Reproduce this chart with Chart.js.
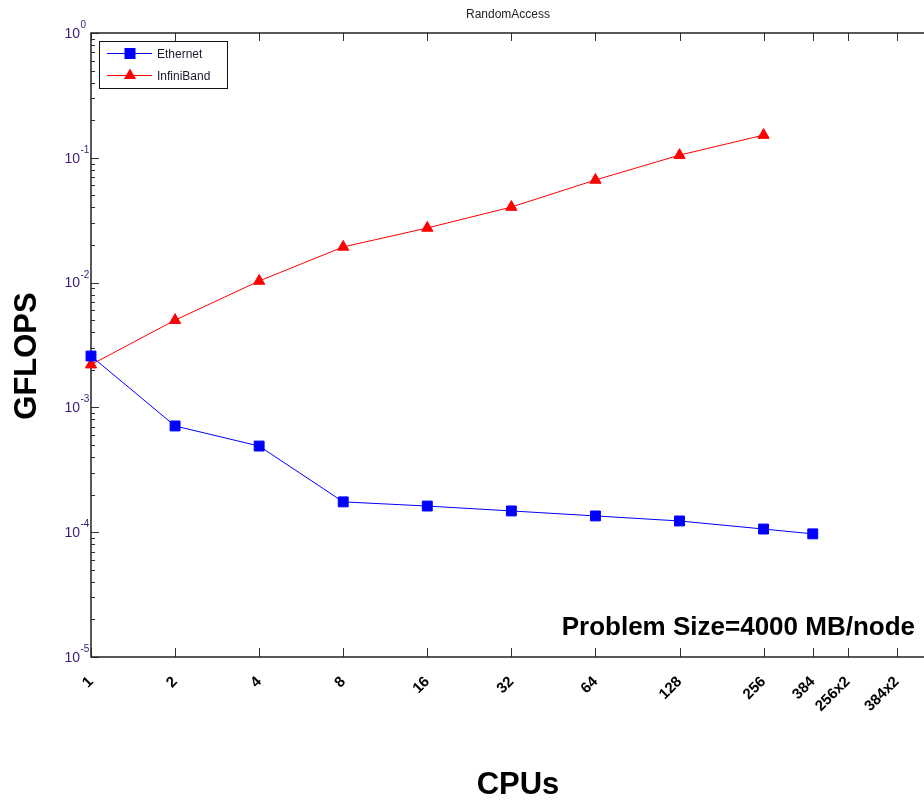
<!DOCTYPE html>
<html>
<head>
<meta charset="utf-8">
<script src="https://cdn.jsdelivr.net/npm/chart.js@4.4.1/dist/chart.umd.min.js"></script>
<style>
  html, body { margin: 0; padding: 0; background: #fff; overflow: hidden; }
</style>
</head>
<body>
<!-- a bit wider than the window: the rotated last label reserves room past the right edge -->
<canvas id="myChart" width="933" height="800"></canvas>
<script>
const cpus = [1, 2, 4, 8, 16, 32, 64, 128, 256, 384];
const ethernet = [2.58e-3, 7.1e-4, 4.9e-4, 1.75e-4, 1.62e-4, 1.48e-4, 1.35e-4, 1.23e-4, 1.06e-4, 9.7e-5];
const infiniband = [2.2e-3, 5.0e-3, 1.03e-2, 1.93e-2, 2.74e-2, 4.03e-2, 6.64e-2, 1.05e-1, 1.52e-1];
const xTickValues = [1, 2, 4, 8, 16, 32, 64, 128, 256, 384, 512, 768];
const xTickLabels = ['1', '2', '4', '8', '16', '32', '64', '128', '256', '384', '256x2', '384x2'];
const yDecades = [-5, -4, -3, -2, -1, 0];

const FONT = "Arial, 'Liberation Sans', sans-serif";
Chart.defaults.font.family = FONT;

function toPoints(values) {
  return values.map((v, i) => ({ x: cpus[i], y: v }));
}

function drawMarker(ctx, style, cx, cy, color) {
  ctx.fillStyle = color;
  ctx.beginPath();
  if (style === 'rect') {
    ctx.rect(cx - 5.5, cy - 5.5, 11, 11);
  } else {
    const r = 7;
    ctx.moveTo(cx, cy - r);
    ctx.lineTo(cx + r * 0.866, cy + r / 2);
    ctx.lineTo(cx - r * 0.866, cy + r / 2);
    ctx.closePath();
  }
  ctx.fill();
}

// axes box with inside ticks, like the matlab figure
const framePlugin = {
  id: 'frame',
  beforeDatasetsDraw(chart) {
    const { ctx, chartArea: a, scales: { x, y } } = chart;
    ctx.save();
    ctx.strokeStyle = '#333';
    ctx.lineWidth = 1;
    ctx.beginPath();
    xTickValues.forEach(v => {
      const px = Math.round(x.getPixelForValue(v)) + 0.5;
      ctx.moveTo(px, a.bottom);
      ctx.lineTo(px, a.bottom - 9);
      ctx.moveTo(px, a.top);
      ctx.lineTo(px, a.top + 8);
    });
    yDecades.forEach(e => {
      for (let m = 1; m <= 9; m++) {
        const v = m * Math.pow(10, e);
        if (v > 1.0001) break;
        const py = Math.round(y.getPixelForValue(v)) + 0.5;
        ctx.moveTo(a.left, py);
        ctx.lineTo(a.left + (m === 1 ? 8 : 4), py);
      }
    });
    ctx.stroke();

    ctx.strokeStyle = '#222';
    ctx.lineWidth = 1.5;
    ctx.beginPath();
    ctx.moveTo(a.right + 2, a.top);
    ctx.lineTo(a.left, a.top);
    ctx.lineTo(a.left, a.bottom);
    ctx.lineTo(a.right + 2, a.bottom);
    ctx.stroke();
    ctx.restore();
  },
  afterDraw(chart) {
    const { ctx, scales: { y } } = chart;
    ctx.save();

    // y tick labels 10^n
    ctx.fillStyle = '#3b1a78';
    yDecades.forEach(e => {
      const py = y.getPixelForValue(Math.pow(10, e));
      ctx.font = '14px ' + FONT;
      ctx.textAlign = 'right';
      ctx.textBaseline = 'middle';
      ctx.fillText('10', 80, py + 1);
      ctx.font = '10px ' + FONT;
      ctx.textAlign = 'left';
      ctx.textBaseline = 'alphabetic';
      ctx.fillText(String(e), 80.5, py - 5);
    });

    // axis titles
    ctx.fillStyle = '#000';
    ctx.font = 'bold 31px ' + FONT;
    ctx.textAlign = 'center';
    ctx.textBaseline = 'middle';
    ctx.fillText('CPUs', 518, 785);
    ctx.save();
    ctx.translate(27, 356);
    ctx.rotate(-Math.PI / 2);
    ctx.fillText('GFLOPS', 0, 0);
    ctx.restore();

    // annotation
    ctx.font = 'bold 26px ' + FONT;
    ctx.textAlign = 'right';
    ctx.textBaseline = 'alphabetic';
    ctx.fillText('Problem Size=4000 MB/node', 915, 635);

    // legend
    ctx.fillStyle = '#fff';
    ctx.fillRect(99.5, 41.5, 128, 47);
    ctx.strokeStyle = '#111';
    ctx.lineWidth = 1;
    ctx.strokeRect(99.5, 41.5, 128, 47);
    chart.data.datasets.forEach((ds, i) => {
      const ly = 53.5 + i * 22;
      ctx.strokeStyle = ds.borderColor;
      ctx.beginPath();
      ctx.moveTo(107, ly);
      ctx.lineTo(152, ly);
      ctx.stroke();
      drawMarker(ctx, ds.pointStyle, 130, ly, ds.borderColor);
      ctx.fillStyle = '#1a1a33';
      ctx.font = '12px ' + FONT;
      ctx.textAlign = 'left';
      ctx.textBaseline = 'middle';
      ctx.fillText(ds.label, 157, ly + 1);
    });
    ctx.restore();
  }
};

const ctx = document.getElementById('myChart').getContext('2d');
const myGraph = new Chart(ctx, {
  type: 'line',
  data: {
    datasets: [
      {
        label: 'Ethernet',
        data: toPoints(ethernet),
        borderColor: '#0000ff',
        backgroundColor: '#0000ff',
        borderWidth: 1,
        pointStyle: 'rect',
        pointRadius: 7,
        pointBorderWidth: 1,
        clip: false
      },
      {
        label: 'InfiniBand',
        data: toPoints(infiniband),
        borderColor: '#ff0000',
        backgroundColor: '#ff0000',
        borderWidth: 1,
        pointStyle: 'triangle',
        pointRadius: 6.5,
        pointBorderWidth: 1,
        clip: false
      }
    ]
  },
  options: {
    responsive: false,
    animation: false,
    layout: { padding: 0 },
    plugins: {
      legend: { display: false },
      tooltip: { enabled: false },
      title: {
        display: true,
        text: 'RandomAccess',
        fullSize: false,
        color: '#222',
        font: { size: 12, weight: 'normal' },
        padding: { top: 7, bottom: 11.6 }
      }
    },
    scales: {
      x: {
        type: 'logarithmic',
        position: 'bottom',
        min: 1,
        max: Math.pow(2, 9.92),
        grid: { display: false, drawTicks: false },
        border: { display: false },
        afterBuildTicks: s => { s.ticks = xTickValues.map(v => ({ value: v })); },
        afterFit: s => { s.height = 143; },
        ticks: {
          autoSkip: false,
          minRotation: 45,
          maxRotation: 45,
          padding: 16,
          color: '#000',
          font: { size: 15, weight: 'bold' },
          callback: v => xTickLabels[xTickValues.indexOf(v)]
        }
      },
      y: {
        type: 'logarithmic',
        min: 1e-5,
        max: 1,
        grid: { display: false },
        border: { display: false },
        ticks: { display: false },
        afterFit: s => { s.width = 91; }
      }
    }
  },
  plugins: [framePlugin]
});
</script>
</body>
</html>
